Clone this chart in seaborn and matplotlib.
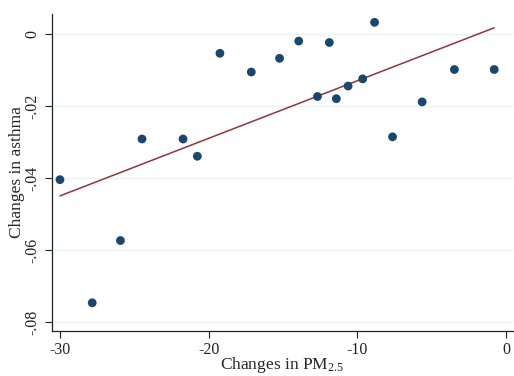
import numpy as np
import pandas as pd
import matplotlib
matplotlib.use("Agg")
import matplotlib.pyplot as plt
import seaborn as sns

# changes in PM2.5 vs changes in asthma
pm25_change = [-30.0, -27.83, -25.93, -24.48, -21.72, -20.76, -19.24, -17.13,
               -15.23, -13.94, -12.68, -11.88, -11.41, -10.62, -9.64, -8.84,
               -7.63, -5.64, -3.47, -0.79]
asthma_change = [-0.0404, -0.0746, -0.0573, -0.0291, -0.0291, -0.0339, -0.0053,
                 -0.0105, -0.0067, -0.0019, -0.0173, -0.0023, -0.0179, -0.0144,
                 -0.0124, 0.0033, -0.0285, -0.0188, -0.0098, -0.0098]

xticks = [-30, -20, -10, 0]
yticks = [0, -0.02, -0.04, -0.06, -0.08]
ytick_labels = ['0', '-.02', '-.04', '-.06', '-.08']

df = pd.DataFrame({'pm25': pm25_change, 'asthma': asthma_change})

sns.set_theme(style='white')
plt.rcParams['font.family'] = ['Liberation Serif', 'DejaVu Serif']
plt.rcParams['mathtext.fontset'] = 'custom'
plt.rcParams['mathtext.rm'] = 'Liberation Serif'
plt.rcParams['mathtext.it'] = 'Liberation Serif'

fig = plt.figure(figsize=(5.14, 3.76), dpi=100)
ax = fig.add_axes([0.101, 0.12, 0.897, 0.843])

for y in yticks:
    ax.axhline(y, color='#eaf2f3', lw=1.0, zorder=0)

sns.regplot(x='pm25', y='asthma', data=df, ci=None, ax=ax,
            scatter_kws={'s': 40, 'color': '#1a476f', 'edgecolor': 'none',
                         'alpha': 1, 'zorder': 3},
            line_kws={'color': '#90353b', 'lw': 1.1, 'zorder': 2})

ax.set_xlim(-30.54, 0.47)
ax.set_ylim(-0.0824, 0.00564)
ax.set_xticks(xticks)
ax.set_xticklabels([str(t) for t in xticks])
ax.set_yticks(yticks)
ax.set_yticklabels(ytick_labels, rotation=90, va='center')

ax.set_xlabel(r'Changes in PM$_{\mathrm{2.5}}$', fontsize=12.5)
ax.set_ylabel('Changes in asthma', fontsize=12.5)
ax.xaxis.set_label_coords(0.5, -0.076)
ax.yaxis.set_label_coords(-0.058, 0.5)

for side in ['top', 'right']:
    ax.spines[side].set_visible(False)
for side in ['left', 'bottom']:
    ax.spines[side].set_color('#222222')
    ax.spines[side].set_linewidth(0.9)
ax.tick_params(axis='both', which='major', length=5, width=0.8, color='#222222',
               labelsize=11.5, labelcolor='#222222', direction='out',
               bottom=True, left=True, pad=3)

fig.savefig('out.png', dpi=100, facecolor='white')
